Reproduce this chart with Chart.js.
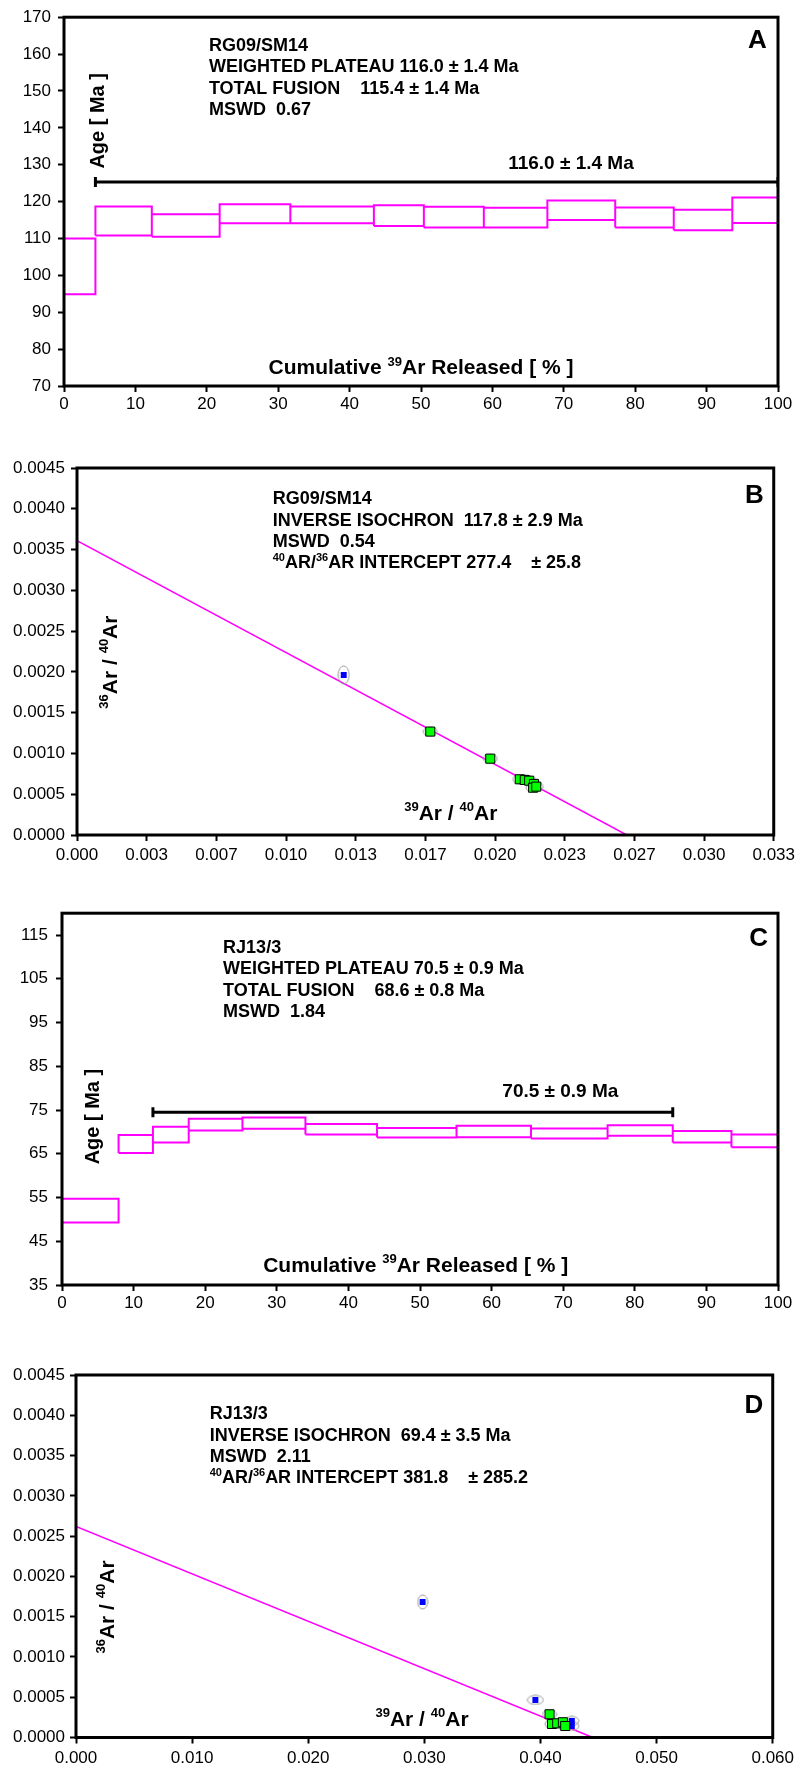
<!DOCTYPE html>
<html>
<head>
<meta charset="utf-8">
<script src="https://cdn.jsdelivr.net/npm/chart.js"></script>
<style>
  html, body { margin: 0; padding: 0; background: #fff; }
  #page { position: relative; width: 799px; height: 1767px; overflow: hidden; background: #fff; }
  #page canvas { position: absolute; left: 0; }
</style>
</head>
<body>
<div id="page">
  <canvas id="chartA"></canvas>
  <canvas id="chartB"></canvas>
  <canvas id="chartC"></canvas>
  <canvas id="chartD"></canvas>
</div>
<script>
// ---------- A : age spectrum RG09/SM14 ----------
const stepEdgesA = [0, 4.4, 12.3, 21.8, 31.7, 43.4, 50.4, 58.8, 67.7, 77.2, 85.4, 93.6, 100];
const ageHiA = [110.0, 118.7, 116.6, 119.3, 118.7, 119.0, 118.6, 118.3, 120.3, 118.4, 117.8, 121.1];
const ageLoA = [94.9, 110.8, 110.5, 114.1, 114.1, 113.4, 113.0, 113.0, 115.0, 113.0, 112.2, 114.2];
const plateauSpanA = [4.4, 100];
const plateauLevelA = 125.3;
const yTicksA = [70, 80, 90, 100, 110, 120, 130, 140, 150, 160, 170];
const annotA = ["RG09/SM14", "WEIGHTED PLATEAU 116.0 \u00b1 1.4 Ma", "TOTAL FUSION    115.4 \u00b1 1.4 Ma", "MSWD  0.67"];
const plateauTextA = "116.0 \u00b1 1.4 Ma";

// ---------- B : inverse isochron RG09/SM14 ----------
const greenBx = [0.01690, 0.01977, 0.02118, 0.02142, 0.02163, 0.02186, 0.02182, 0.02197];
const greenBy = [0.001268, 0.000936, 0.000683, 0.000675, 0.000666, 0.000626, 0.000580, 0.000593];
const blueBx = [0.01276];
const blueBy = [0.001963];
const isoBx = [0, 0.0263];
const isoBy = [0.00361, 0];
const xTicksB = [0, 0.00333, 0.00667, 0.01, 0.01333, 0.01667, 0.02, 0.02333, 0.02667, 0.03, 0.03333];
const annotB = ["RG09/SM14", "INVERSE ISOCHRON  117.8 \u00b1 2.9 Ma", "MSWD  0.54", "^40AR/^36AR INTERCEPT 277.4    \u00b1 25.8"];

// ---------- C : age spectrum RJ13/3 ----------
const stepEdgesC = [0, 7.9, 12.7, 17.7, 25.2, 34.0, 44.0, 55.1, 65.5, 76.2, 85.3, 93.5, 100];
const ageHiC = [54.7, 69.3, 71.2, 73.0, 73.3, 71.8, 70.9, 71.4, 70.8, 71.5, 70.2, 69.4];
const ageLoC = [49.3, 65.2, 67.6, 70.3, 70.7, 69.4, 68.7, 68.8, 68.5, 69.1, 67.6, 66.5];
const plateauSpanC = [12.7, 85.3];
const plateauLevelC = 74.5;
const yTicksC = [35, 45, 55, 65, 75, 85, 95, 105, 115];
const annotC = ["RJ13/3", "WEIGHTED PLATEAU 70.5 \u00b1 0.9 Ma", "TOTAL FUSION    68.6 \u00b1 0.8 Ma", "MSWD  1.84"];
const plateauTextC = "70.5 \u00b1 0.9 Ma";

// ---------- D : inverse isochron RJ13/3 ----------
const greenDx = [0.04078, 0.04099, 0.04144, 0.04193, 0.04213];
const greenDy = [0.000288, 0.000168, 0.000176, 0.000189, 0.000143];
const blueDx = [0.02985, 0.03956, 0.04270, 0.04270];
const blueDy = [0.001683, 0.000466, 0.000205, 0.000143];
const isoDx = [0, 0.0445];
const isoDy = [0.00262, 0];
const xTicksD = [0, 0.01, 0.02, 0.03, 0.04, 0.05, 0.06];
const annotD = ["RJ13/3", "INVERSE ISOCHRON  69.4 \u00b1 3.5 Ma", "MSWD  2.11", "^40AR/^36AR INTERCEPT 381.8    \u00b1 285.2"];

const xTicksPct = [0, 10, 20, 30, 40, 50, 60, 70, 80, 90, 100];
const yTicksIso = [0, 0.0005, 0.001, 0.0015, 0.002, 0.0025, 0.003, 0.0035, 0.004, 0.0045];

const FONT = "'Liberation Sans', Arial, Helvetica, sans-serif";
const MAGENTA = "#ff00ff";

function pts(xs, ys) {
  return xs.map((x, i) => ({ x: x, y: ys[i] }));
}

// one closed box per heating step, gaps between boxes
function stepBoxes(edges, hi, lo) {
  const out = [];
  for (let i = 0; i < hi.length; i++) {
    const a = edges[i], b = edges[i + 1];
    out.push({ x: a, y: lo[i] }, { x: a, y: hi[i] }, { x: b, y: hi[i] }, { x: b, y: lo[i] }, { x: a, y: lo[i] }, { x: b, y: null });
  }
  return out;
}

function ellipseImage(w, h) {
  const c = document.createElement("canvas");
  c.width = w + 2; c.height = h + 2;
  const g = c.getContext("2d");
  g.strokeStyle = "#9a9a9a";
  g.lineWidth = 1;
  g.beginPath();
  g.ellipse(c.width / 2, c.height / 2, w / 2, h / 2, 0, 0, Math.PI * 2);
  g.stroke();
  return c;
}

// bold text with ^NN superscripts, y = middle of capitals
function drawRich(ctx, text, x, y, size, align) {
  const sup = Math.round(size * 0.62);
  const segs = text.split(/(\^\d+)/).filter(s => s.length).map(s =>
    s[0] === "^" ? { t: s.slice(1), sup: true } : { t: s, sup: false });
  let total = 0;
  segs.forEach(s => {
    ctx.font = "bold " + (s.sup ? sup : size) + "px " + FONT;
    s.w = ctx.measureText(s.t).width;
    total += s.w;
  });
  let cx = align === "center" ? x - total / 2 : x;
  ctx.textAlign = "left";
  ctx.textBaseline = "alphabetic";
  segs.forEach(s => {
    ctx.font = "bold " + (s.sup ? sup : size) + "px " + FONT;
    ctx.fillText(s.t, cx, y + size * 0.36 - (s.sup ? size * 0.42 : 0));
    cx += s.w;
  });
}

const panelDecor = {
  id: "panelDecor",
  afterDatasetsDraw(chart, args, opts) {
    const { ctx, chartArea: a } = chart;
    const sx = chart.scales.x, sy = chart.scales.y;
    ctx.save();
    ctx.strokeStyle = "#000";
    ctx.lineWidth = 3;
    ctx.strokeRect(a.left, a.top, a.right - a.left, a.bottom - a.top);
    ctx.fillStyle = "#000";
    (opts.texts || []).forEach(t => {
      const px = sx.getPixelForValue(t.x), py = sy.getPixelForValue(t.y);
      if (t.rotate) {
        ctx.save();
        ctx.translate(px, py);
        ctx.rotate(-Math.PI / 2);
        drawRich(ctx, t.lines[0], 0, 0, t.size, "center");
        ctx.restore();
      } else {
        t.lines.forEach((line, i) => drawRich(ctx, line, px, py + i * (t.lh || 0), t.size, t.align || "left"));
      }
    });
    ctx.restore();
  }
};

function axis(min, max, ticks, fmt, pad, extra) {
  return Object.assign({
    type: "linear",
    min: min,
    max: max,
    afterBuildTicks: s => { s.ticks = ticks.map(v => ({ value: v })); },
    grid: { drawOnChartArea: false, drawTicks: true, tickLength: 6, tickWidth: 2, tickColor: "#000" },
    border: { display: false },
    ticks: {
      autoSkip: false, maxRotation: 0, minRotation: 0, padding: pad, color: "#000",
      font: { family: FONT, size: 17 },
      callback: v => fmt(v)
    }
  }, extra);
}

function makePanel(id, box, area, cfg) {
  const cv = document.getElementById(id);
  const W = 799, H = box.height;
  cv.width = W; cv.height = H;
  cv.style.top = box.top + "px";
  cv.style.width = W + "px"; cv.style.height = H + "px";
  const axisH = Math.min(30, box.top + H - area.b);
  return new Chart(cv, {
    type: "scatter",
    data: { datasets: cfg.datasets },
    options: {
      responsive: false,
      animation: false,
      devicePixelRatio: 1,
      layout: {
        autoPadding: false,
        padding: { left: 0, top: area.t - box.top, right: W - area.r, bottom: box.top + H - area.b - axisH }
      },
      plugins: { legend: { display: false }, tooltip: { enabled: false }, panelDecor: { texts: cfg.texts } },
      scales: {
        x: axis(cfg.xMin, cfg.xMax, cfg.xTicks, cfg.xFmt, cfg.xPad, { afterFit: s => { s.height = axisH; } }),
        y: axis(cfg.yMin, cfg.yMax, cfg.yTicks, cfg.yFmt, cfg.yPad, { afterFit: s => { s.width = area.l; } })
      }
    },
    plugins: [panelDecor]
  });
}

function spectrumSets(edges, hi, lo, span, level) {
  return [
    { data: stepBoxes(edges, hi, lo), showLine: true, spanGaps: false, borderColor: MAGENTA, borderWidth: 2,
      pointRadius: 0, order: 3 },
    { data: span.map(x => ({ x: x, y: level })), showLine: true, borderColor: "#000", borderWidth: 3,
      pointStyle: "line", rotation: 90, pointRadius: 5, pointBorderWidth: 3, pointBorderColor: "#000", order: 0 }
  ];
}

function isochronSets(lx, ly, gx, gy, bx, by, blueEllipses) {
  const gEll = ellipseImage(14, 9);
  return [
    { data: pts(lx, ly), showLine: true, borderColor: MAGENTA, borderWidth: 1.5, pointRadius: 0, order: 3 },
    { data: pts(gx, gy), pointStyle: gEll, pointRadius: 7, order: 2 },
    { data: pts(bx, by), pointStyle: blueEllipses.map(e => ellipseImage(e[0], e[1])), pointRadius: 7, order: 2 },
    { data: pts(gx, gy), pointStyle: "rect", pointRadius: 6.4, pointBackgroundColor: "#00ff00",
      pointBorderColor: "#000", pointBorderWidth: 1, order: 1 },
    { data: pts(bx, by), pointStyle: "rect", pointRadius: 4.2, pointBackgroundColor: "#0000ff",
      pointBorderColor: "#0000ff", pointBorderWidth: 0, order: 1 }
  ];
}

const pctFmt = v => String(v);
const ageFmt = v => String(v);
const isoYFmt = v => v.toFixed(4);
const isoXFmt = v => v.toFixed(3);

makePanel("chartA", { top: 0, height: 450 }, { l: 64, t: 16, r: 778, b: 386 }, {
  xMin: 0, xMax: 100, xTicks: xTicksPct, xFmt: pctFmt, xPad: 2,
  yMin: 70, yMax: 170, yTicks: yTicksA, yFmt: ageFmt, yPad: 7,
  datasets: spectrumSets(stepEdgesA, ageHiA, ageLoA, plateauSpanA, plateauLevelA),
  texts: [
    { x: 20.3, y: 162.6, lh: 21.5, size: 18, lines: annotA },
    { x: 97.1, y: 164.3, size: 26, align: "center", lines: ["A"] },
    { x: 71, y: 130.8, size: 19, align: "center", lines: [plateauTextA] },
    { x: 50, y: 75.2, size: 21, align: "center", lines: ["Cumulative ^39Ar Released [ % ]"] },
    { x: 4.6, y: 141.9, size: 20, rotate: true, lines: ["Age [ Ma ]"] }
  ]
});

makePanel("chartB", { top: 450, height: 450 }, { l: 77, t: 468, r: 777, b: 835 }, {
  xMin: 0, xMax: 0.03333, xTicks: xTicksB, xFmt: isoXFmt, xPad: 4,
  yMin: 0, yMax: 0.0045, yTicks: yTicksIso, yFmt: isoYFmt, yPad: 6,
  datasets: isochronSets(isoBx, isoBy, greenBx, greenBy, blueBx, blueBy, [[11, 18]]),
  texts: [
    { x: 0.00936, y: 0.004135, lh: 21.3, size: 18, lines: annotB },
    { x: 0.0324, y: 0.004184, size: 26, align: "center", lines: ["B"] },
    { x: 0.01788, y: 0.000282, size: 21, align: "center", lines: ["^39Ar / ^40Ar"] },
    { x: 0.00155, y: 0.00212, size: 21, rotate: true, lines: ["^36Ar / ^40Ar"] }
  ]
});

makePanel("chartC", { top: 895, height: 430 }, { l: 62, t: 909, r: 778, b: 1285 }, {
  xMin: 0, xMax: 100, xTicks: xTicksPct, xFmt: pctFmt, xPad: 2,
  yMin: 35, yMax: 120, yTicks: yTicksC, yFmt: ageFmt, yPad: 8,
  datasets: spectrumSets(stepEdgesC, ageHiC, ageLoC, plateauSpanC, plateauLevelC),
  texts: [
    { x: 22.5, y: 112.4, lh: 21.3, size: 18, lines: annotC },
    { x: 97.3, y: 114.7, size: 26, align: "center", lines: ["C"] },
    { x: 69.6, y: 79.5, size: 19, align: "center", lines: [plateauTextC] },
    { x: 49.4, y: 39.8, size: 21, align: "center", lines: ["Cumulative ^39Ar Released [ % ]"] },
    { x: 4.2, y: 73.5, size: 20, rotate: true, lines: ["Age [ Ma ]"] }
  ]
});

makePanel("chartD", { top: 1325, height: 442 }, { l: 76, t: 1375, r: 778, b: 1737.5 }, {
  xMin: 0, xMax: 0.06, xTicks: xTicksD, xFmt: isoXFmt, xPad: 5,
  yMin: 0, yMax: 0.0045, yTicks: yTicksIso, yFmt: isoYFmt, yPad: 5,
  datasets: isochronSets(isoDx, isoDy, greenDx, greenDy, blueDx, blueDy, [[10, 14], [16, 9], [14, 9], [14, 9]]),
  texts: [
    { x: 0.01151, y: 0.00403, lh: 21.3, size: 18, lines: annotD },
    { x: 0.05838, y: 0.004142, size: 26, align: "center", lines: ["D"] },
    { x: 0.0298, y: 0.000242, size: 21, align: "center", lines: ["^39Ar / ^40Ar"] },
    { x: 0.00262, y: 0.00162, size: 21, rotate: true, lines: ["^36Ar / ^40Ar"] }
  ]
});
</script>
</body>
</html>
